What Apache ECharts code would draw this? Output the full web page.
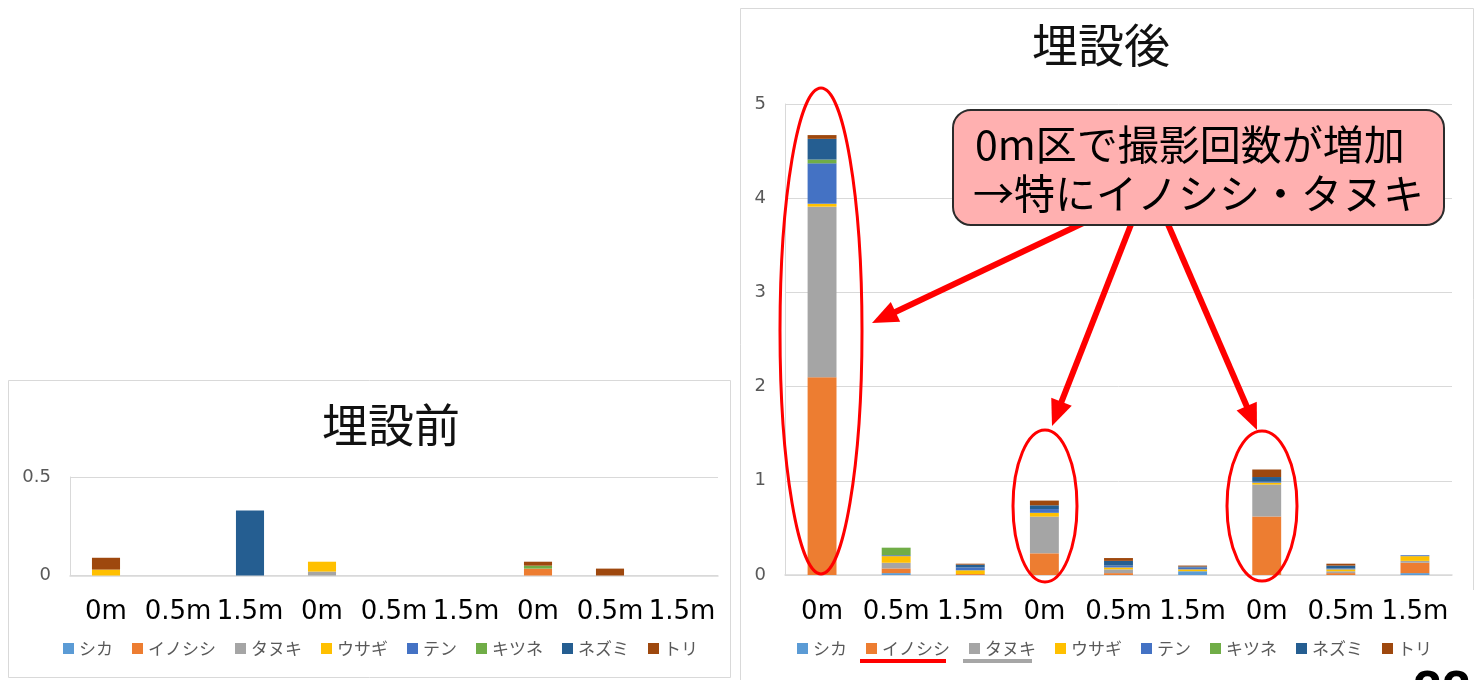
<!DOCTYPE html>
<html>
<head>
<meta charset="utf-8">
<script src="https://cdn.jsdelivr.net/npm/echarts@6/dist/echarts.min.js"></script>
<style>
  html, body { margin: 0; padding: 0; background: #fff; }
  #chart { width: 1483px; height: 680px; }
</style>
</head>
<body>
<div id="chart"></div>
<script>
// Categories: three sites, each with 0m / 0.5m / 1.5m plots
const distances = ['0m', '0.5m', '1.5m', '0m', '0.5m', '1.5m', '0m', '0.5m', '1.5m'];
const species = ['シカ', 'イノシシ', 'タヌキ', 'ウサギ', 'テン', 'キツネ', 'ネズミ', 'トリ'];
const speciesColors = ['#5B9BD5', '#ED7D31', '#A5A5A5', '#FFC000', '#4472C4', '#70AD47', '#255E91', '#9E480E'];

// 埋設前 (before burial)
const beforeShika    = [0, 0, 0, 0, 0, 0, 0, 0, 0];
const beforeInoshishi = [0, 0, 0, 0, 0, 0, 0.035, 0, 0];
const beforeTanuki   = [0, 0, 0, 0.02, 0, 0, 0, 0, 0];
const beforeUsagi    = [0.03, 0, 0, 0.05, 0, 0, 0, 0, 0];
const beforeTen      = [0, 0, 0, 0, 0, 0, 0, 0, 0];
const beforeKitsune  = [0, 0, 0, 0, 0, 0, 0.015, 0, 0];
const beforeNezumi   = [0, 0, 0.33, 0, 0, 0, 0, 0, 0];
const beforeTori     = [0.06, 0, 0, 0, 0, 0, 0.02, 0.035, 0];

// 埋設後 (after burial)
const afterShika     = [0, 0.02, 0, 0, 0, 0.04, 0, 0, 0.02];
const afterInoshishi = [2.10, 0.05, 0.01, 0.23, 0.02, 0, 0.62, 0.02, 0.11];
const afterTanuki    = [1.81, 0.06, 0, 0.39, 0.04, 0, 0.34, 0.02, 0.02];
const afterUsagi     = [0.03, 0.07, 0.04, 0.04, 0.02, 0.02, 0.02, 0.02, 0.05];
const afterTen       = [0.43, 0.01, 0.03, 0.04, 0.02, 0.02, 0.01, 0.01, 0.01];
const afterKitsune   = [0.04, 0.08, 0, 0, 0, 0, 0, 0, 0];
const afterNezumi    = [0.22, 0, 0.03, 0.04, 0.05, 0.01, 0.05, 0.03, 0];
const afterTori      = [0.04, 0, 0.01, 0.05, 0.03, 0.01, 0.08, 0.02, 0];

const beforeTicks = { min: 0, max: 0.5, interval: 0.5 };
const afterTicks = { min: 0, max: 5, interval: 1 };

const beforeData = [beforeShika, beforeInoshishi, beforeTanuki, beforeUsagi, beforeTen, beforeKitsune, beforeNezumi, beforeTori];
const afterData = [afterShika, afterInoshishi, afterTanuki, afterUsagi, afterTen, afterKitsune, afterNezumi, afterTori];

const JP = '"Noto Sans CJK JP", "Noto Sans", sans-serif';
const LATIN = '"DejaVu Sans", sans-serif';
const GRID_GRAY = '#d9d9d9';
const LABEL_GRAY = '#595959';

function makeSeries(dataSets, axisIndex, stackName) {
  return species.map((name, i) => ({
    name: name,
    type: 'bar',
    stack: stackName,
    xAxisIndex: axisIndex,
    yAxisIndex: axisIndex,
    barWidth: '39%',
    itemStyle: { color: speciesColors[i] },
    emphasis: { disabled: true },
    data: dataSets[i]
  }));
}

function xAxisCfg(gridIndex) {
  return {
    type: 'category',
    gridIndex: gridIndex,
    data: distances,
    axisTick: { show: false },
    axisLine: { lineStyle: { color: GRID_GRAY, width: 1.5 } },
    axisLabel: { interval: 0, margin: 24, fontSize: 26, color: '#000', fontFamily: LATIN }
  };
}

function yAxisCfg(gridIndex, ticks) {
  return {
    type: 'value',
    gridIndex: gridIndex,
    min: ticks.min,
    max: ticks.max,
    interval: ticks.interval,
    axisLine: { show: true, lineStyle: { color: GRID_GRAY } },
    axisTick: { show: false },
    splitLine: { lineStyle: { color: GRID_GRAY } },
    axisLabel: { margin: 19, fontSize: 18, color: LABEL_GRAY, fontFamily: LATIN }
  };
}

// Red annotation arrow: shaft plus a triangular head
function arrow(x1, y1, x2, y2) {
  const dx = x2 - x1, dy = y2 - y1;
  const len = Math.sqrt(dx * dx + dy * dy);
  const ux = dx / len, uy = dy / len;
  const headLen = 26, headHalf = 11;
  const bx = x2 - ux * headLen, by = y2 - uy * headLen;
  const px = -uy, py = ux;
  return [
    {
      type: 'line', z: 100,
      shape: { x1: x1, y1: y1, x2: bx + ux * 2, y2: by + uy * 2 },
      style: { stroke: '#FF0000', lineWidth: 6 }
    },
    {
      type: 'polygon', z: 100,
      shape: { points: [[x2, y2], [bx + px * headHalf, by + py * headHalf], [bx - px * headHalf, by - py * headHalf]] },
      style: { fill: '#FF0000' }
    }
  ];
}

function ring(cx, cy, rx, ry) {
  return {
    type: 'ellipse', z: 100,
    shape: { cx: cx, cy: cy, rx: rx, ry: ry },
    style: { fill: null, stroke: '#FF0000', lineWidth: 3 }
  };
}

const chart = echarts.init(document.getElementById('chart'), null, { renderer: 'canvas' });

chart.setOption({
  animation: false,
  backgroundColor: '#fff',
  textStyle: { fontFamily: JP },
  grid: [
    { left: 70, top: 477, width: 648, height: 98.5 },
    { left: 785, top: 104, width: 667, height: 471 }
  ],
  xAxis: [xAxisCfg(0), xAxisCfg(1)],
  yAxis: [yAxisCfg(0, beforeTicks), yAxisCfg(1, afterTicks)],
  legend: [
    {
      left: 58, top: 635, itemWidth: 11, itemHeight: 11, itemGap: 19, selectedMode: false,
      icon: 'rect', data: species,
      textStyle: { fontSize: 17, color: LABEL_GRAY, fontFamily: JP }
    },
    {
      left: 792, top: 635, itemWidth: 11, itemHeight: 11, itemGap: 19, selectedMode: false,
      icon: 'rect', data: species,
      textStyle: { fontSize: 17, color: LABEL_GRAY, fontFamily: JP }
    }
  ],
  series: makeSeries(beforeData, 0, 'before').concat(makeSeries(afterData, 1, 'after')),
  graphic: [
    // chart frames
    {
      type: 'rect', z: 0, silent: true,
      shape: { x: 8.5, y: 380.5, width: 722, height: 297 },
      style: { fill: null, stroke: GRID_GRAY, lineWidth: 1 }
    },
    {
      type: 'polyline', z: 0, silent: true,
      shape: { points: [[740.5, 680], [740.5, 8.5], [1473.5, 8.5], [1473.5, 590]] },
      style: { fill: null, stroke: GRID_GRAY, lineWidth: 1 }
    },
    // titles
    {
      type: 'text', z: 50, x: 391, y: 425,
      style: { text: '埋設前', fontSize: 46, fill: '#111', fontFamily: JP, align: 'center', verticalAlign: 'middle' }
    },
    {
      type: 'text', z: 50, x: 1101, y: 45,
      style: { text: '埋設後', fontSize: 46, fill: '#111', fontFamily: JP, align: 'center', verticalAlign: 'middle' }
    },
    // highlight rings around the 0m bars
    ring(821, 331, 41, 243),
    ring(1045, 506, 32, 76),
    ring(1262, 506, 35, 75),
    // arrows from the callout
    ...arrow(1098, 216, 872, 323),
    ...arrow(1132, 222, 1052, 426),
    ...arrow(1167, 222, 1257, 430),
    // callout box
    {
      type: 'rect', z: 110,
      shape: { x: 953, y: 110, width: 491, height: 115, r: 18 },
      style: { fill: '#FFB0B0', stroke: '#2b2b2b', lineWidth: 2 }
    },
    {
      type: 'text', z: 111, x: 975, y: 144,
      style: { text: '0m区で撮影回数が増加', fontSize: 41, fill: '#000', fontFamily: JP, align: 'left', verticalAlign: 'middle' }
    },
    {
      type: 'text', z: 111, x: 973, y: 193,
      style: { text: '→特にイノシシ・タヌキ', fontSize: 41, fill: '#000', fontFamily: JP, align: 'left', verticalAlign: 'middle' }
    },
    // legend underlines
    {
      type: 'line', z: 100,
      shape: { x1: 860, y1: 661, x2: 946, y2: 661 },
      style: { stroke: '#FF0000', lineWidth: 4 }
    },
    {
      type: 'line', z: 100,
      shape: { x1: 963, y1: 661, x2: 1032, y2: 661 },
      style: { stroke: '#A6A6A6', lineWidth: 4 }
    },
    // page number
    {
      type: 'text', z: 100, x: 1442, y: 693,
      style: { text: '22', fontSize: 52, fontWeight: 'bold', fill: '#000', fontFamily: '"Liberation Sans", sans-serif', align: 'center', verticalAlign: 'middle' }
    }
  ]
});
</script>
</body>
</html>
